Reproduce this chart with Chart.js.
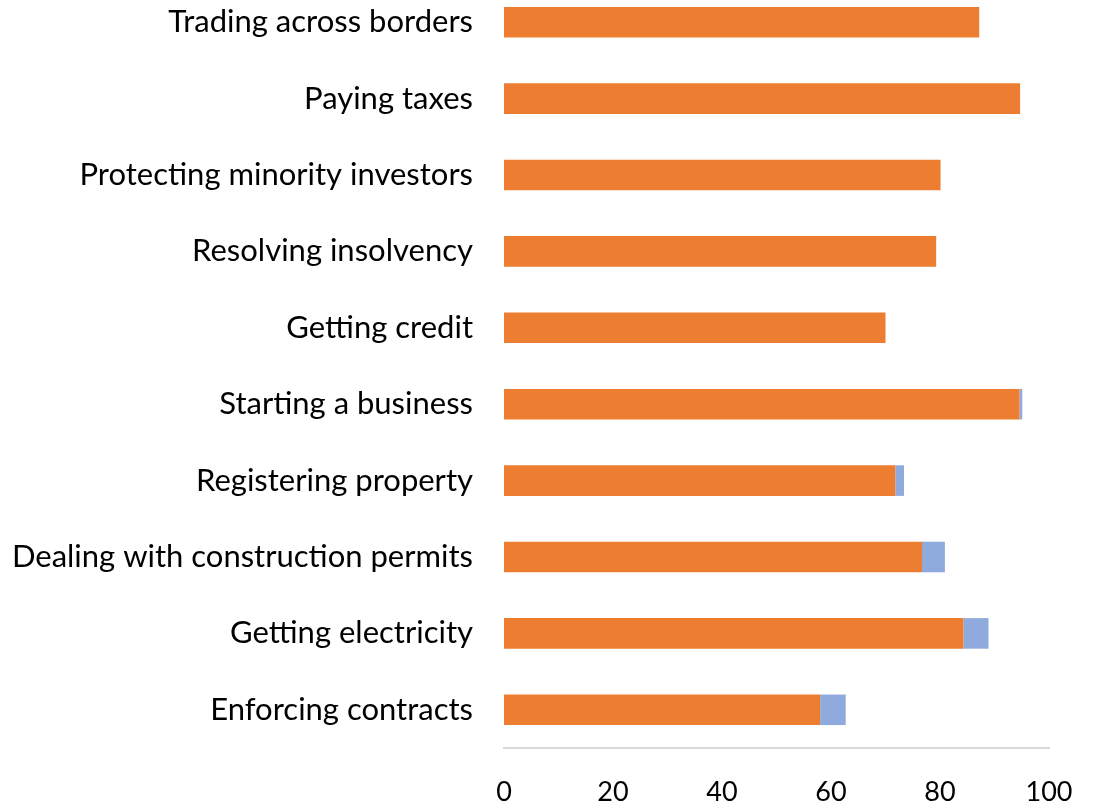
<!DOCTYPE html>
<html>
<head>
<meta charset="utf-8">
<script src="https://cdn.jsdelivr.net/npm/chart.js@4"></script>
<style>
  html, body { margin: 0; padding: 0; background: #ffffff; overflow: hidden; }
  #wrap { position: relative; width: 1095px; height: 804px; overflow: hidden; }
  #holder { position: absolute; left: 0; top: -16px; width: 1095px; height: 820px; }
</style>
</head>
<body>
<div id="wrap"><div id="holder"><canvas id="c"></canvas></div></div>
<script>
const categories = [
  "Trading across borders",
  "Paying taxes",
  "Protecting minority investors",
  "Resolving insolvency",
  "Getting credit",
  "Starting a business",
  "Registering property",
  "Dealing with construction permits",
  "Getting electricity",
  "Enforcing contracts"
];
const baseScores = [87.2, 94.7, 80.1, 79.3, 70.0, 94.6, 71.8, 76.7, 84.3, 58.0];
const improvement = [0, 0, 0, 0, 0, 0.5, 1.6, 4.2, 4.6, 4.7];
const xTicks = [0, 20, 40, 60, 80, 100];

const FONT = "Lato, 'Open Sans', sans-serif";

new Chart(document.getElementById('c'), {
  type: 'bar',
  data: {
    labels: categories,
    datasets: [
      { label: 'Score', data: baseScores, backgroundColor: '#ED7D31', borderWidth: 0,
        categoryPercentage: 1.0, barPercentage: 0.4 },
      { label: 'Improvement', data: improvement, backgroundColor: '#8FAADC', borderWidth: 0,
        categoryPercentage: 1.0, barPercentage: 0.4 }
    ]
  },
  options: {
    indexAxis: 'y',
    responsive: true,
    maintainAspectRatio: false,
    animation: false,
    layout: { padding: { left: 0, right: 46, top: 0, bottom: 0 } },
    plugins: { legend: { display: false }, tooltip: { enabled: false } },
    scales: {
      x: {
        stacked: true,
        min: 0, max: 100,
        afterBuildTicks: (s) => { s.ticks = xTicks.map(v => ({ value: v })); },
        grid: { display: false, drawTicks: false },
        border: { display: true, color: '#d9d9d9', width: 2 },
        ticks: { color: '#000000', padding: 28, font: { family: FONT, size: 27 } },
        afterFit: (s) => { s.height = 56; s.paddingLeft = 0; s.paddingRight = 0; }
      },
      y: {
        stacked: true,
        grid: { display: false, drawTicks: false },
        border: { display: false },
        ticks: { color: '#000000', padding: 31, font: { family: FONT, size: 31 } },
        afterFit: (s) => { s.width = 504; s.paddingTop = 0; s.paddingBottom = 0; }
      }
    }
  }
});
</script>
</body>
</html>
